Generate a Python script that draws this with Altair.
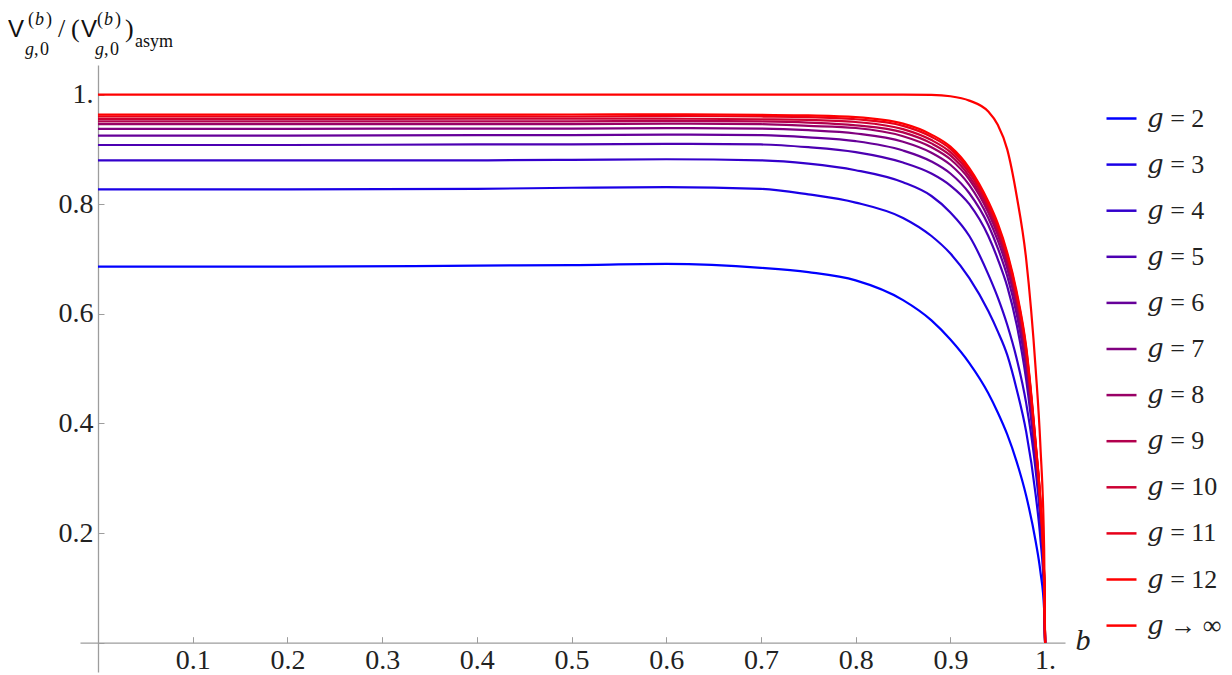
import altair as alt
import pandas as pd

# ---------------- data ----------------
b_values = [0.0, 0.2, 0.4, 0.5, 0.6, 0.7, 0.75, 0.8, 0.85, 0.88, 0.9, 0.92,
            0.94, 0.95, 0.96, 0.97, 0.98, 0.99, 0.995, 0.999, 1.0]

v_g2 = [0.686, 0.686, 0.688, 0.689, 0.691, 0.684, 0.676, 0.661, 0.625, 0.588, 0.553,
        0.510, 0.455, 0.420, 0.380, 0.330, 0.268, 0.185, 0.130, 0.060, 0.0]
v_g3 = [0.827, 0.827, 0.828, 0.830, 0.831, 0.828, 0.818, 0.803, 0.775, 0.742, 0.710,
        0.665, 0.605, 0.568, 0.525, 0.462, 0.385, 0.270, 0.190, 0.085, 0.0]
v_g4 = [0.880, 0.880, 0.880, 0.881, 0.882, 0.880, 0.874, 0.862, 0.840, 0.815, 0.785,
        0.742, 0.672, 0.630, 0.580, 0.518, 0.437, 0.315, 0.222, 0.098, 0.0]
v_g5 = [0.908, 0.908, 0.909, 0.909, 0.910, 0.909, 0.904, 0.895, 0.876, 0.856, 0.834,
        0.800, 0.742, 0.700, 0.650, 0.580, 0.480, 0.330, 0.235, 0.105, 0.0]
v_g6 = [0.925, 0.925, 0.926, 0.926, 0.927, 0.926, 0.922, 0.915, 0.898, 0.878, 0.856,
        0.820, 0.762, 0.720, 0.669, 0.599, 0.499, 0.341, 0.243, 0.110, 0.0]
v_g7 = [0.9375, 0.9375, 0.938, 0.938, 0.939, 0.938, 0.935, 0.929, 0.914, 0.894, 0.872,
        0.835, 0.775, 0.734, 0.683, 0.612, 0.512, 0.349, 0.248, 0.113, 0.0]
v_g8 = [0.946, 0.946, 0.946, 0.946, 0.947, 0.946, 0.943, 0.939, 0.924, 0.904, 0.882,
        0.845, 0.785, 0.744, 0.692, 0.621, 0.521, 0.354, 0.252, 0.115, 0.0]
v_g9 = [0.951, 0.951, 0.951, 0.951, 0.952, 0.951, 0.949, 0.944, 0.931, 0.911, 0.889,
        0.851, 0.791, 0.750, 0.698, 0.626, 0.526, 0.357, 0.254, 0.117, 0.0]
v_g10 = [0.9557, 0.9557, 0.956, 0.956, 0.956, 0.955, 0.954, 0.950, 0.937, 0.917, 0.895,
         0.857, 0.796, 0.756, 0.703, 0.632, 0.532, 0.360, 0.257, 0.118, 0.0]
v_g11 = [0.960, 0.960, 0.960, 0.960, 0.961, 0.960, 0.959, 0.955, 0.943, 0.923, 0.901,
         0.862, 0.801, 0.761, 0.708, 0.636, 0.536, 0.363, 0.259, 0.119, 0.0]
v_g12 = [0.9635, 0.9635, 0.9635, 0.9637, 0.964, 0.963, 0.962, 0.959, 0.947, 0.927, 0.905,
         0.866, 0.805, 0.765, 0.712, 0.640, 0.540, 0.365, 0.260, 0.120, 0.0]
v_inf = [1.0, 1.0, 1.0, 1.0, 1.0, 1.0, 1.0, 1.0, 1.0, 0.9995, 0.997,
         0.989, 0.969, 0.945, 0.900, 0.815, 0.700, 0.500, 0.360, 0.170, 0.0]

series_labels = ["𝑔 = 2", "𝑔 = 3", "𝑔 = 4", "𝑔 = 5", "𝑔 = 6", "𝑔 = 7", "𝑔 = 8",
                 "𝑔 = 9", "𝑔 = 10", "𝑔 = 11", "𝑔 = 12", "𝑔 → ∞"]
series_values = [v_g2, v_g3, v_g4, v_g5, v_g6, v_g7, v_g8, v_g9, v_g10, v_g11, v_g12, v_inf]

x_ticks = [0.0, 0.1, 0.2, 0.3, 0.4, 0.5, 0.6, 0.7, 0.8, 0.9, 1.0]
y_ticks = [0.0, 0.2, 0.4, 0.6, 0.8, 1.0]

rows = []
for k, (lab, vals) in enumerate(zip(series_labels, series_values)):
    for b, v in zip(b_values, vals):
        rows.append({"series": lab, "k": k, "b": b, "v": v})
df = pd.DataFrame(rows)

# blue -> red blend for g = 2..12, red for g -> inf
colors = []
for k in range(11):
    t = k / 10
    colors.append("#%02x00%02x" % (round(255 * t), round(255 * (1 - t))))
colors.append("#ff0000")

# ---------------- layout ----------------
W, H = 985, 607
XDOM = [-0.019, 1.021]
YDOM = [-0.0535, 1.054]
x0_px = (0 - XDOM[0]) / (XDOM[1] - XDOM[0]) * W
y0_px = (YDOM[1] - 0) / (YDOM[1] - YDOM[0]) * H

AXC = "#9d9d9d"
LBL = "#222222"
SERIF = "Liberation Serif, DejaVu Serif, serif"
SANS = "Liberation Sans, DejaVu Sans, sans-serif"

label_expr = "datum.value == 0 ? '' : (datum.value == 1 ? '1.' : format(datum.value, '.1f'))"

x_axis = alt.Axis(
    orient="top", offset=-y0_px, values=x_ticks, grid=False, labelExpr=label_expr,
    tickSize=6, tickColor=AXC, tickWidth=1, domainColor=AXC, domainWidth=1.3,
    labelPadding=-32, labelBaseline="alphabetic", labelAlign="center",
    labelFont=SERIF, labelFontSize=28, labelColor=LBL, labelFlush=False, labelOverlap=False,
    title="b", titleX=995, titleY=7, titleAlign="left", titleBaseline="alphabetic",
    titleAngle=0, titleFont=SERIF, titleFontStyle="italic", titleFontWeight="normal",
    titleFontSize=30, titleColor=LBL,
)
y_axis = alt.Axis(
    orient="right", offset=-(W - x0_px), values=y_ticks, grid=False, labelExpr=label_expr,
    tickSize=6, tickColor=AXC, tickWidth=1, domainColor=AXC, domainWidth=1.3,
    labelPadding=-11, labelBaseline="middle", labelAlign="right",
    labelFont=SERIF, labelFontSize=28, labelColor=LBL, labelFlush=False, labelOverlap=False,
    title=None,
)

lines = alt.Chart(df).mark_line(strokeWidth=2.2, interpolate="monotone").encode(
    x=alt.X("b:Q", scale=alt.Scale(domain=XDOM, nice=False, zero=False), axis=x_axis),
    y=alt.Y("v:Q", scale=alt.Scale(domain=YDOM, nice=False, zero=False), axis=y_axis),
    color=alt.Color(
        "series:N", sort=series_labels,
        scale=alt.Scale(domain=series_labels, range=colors),
        legend=alt.Legend(
            orient="none", legendX=1025, legendY=37, title=None,
            symbolType="stroke", symbolSize=900, symbolStrokeWidth=2.5,
            labelFont=SERIF, labelFontSize=26, labelColor=LBL, labelOffset=9,
            rowPadding=16.1, padding=0, labelLimit=300,
        ),
    ),
    order=alt.Order("b:Q"),
)


def piece(txt, x, y, size, font=SERIF, style="normal"):
    return alt.Chart(pd.DataFrame({"t": [txt]})).mark_text(
        align="left", baseline="alphabetic", font=font, fontSize=size,
        fontStyle=style, color="#111111",
    ).encode(x=alt.value(x), y=alt.value(y), text="t:N")


SUP, SUB, MAIN = -40, -10, -28
pieces = [
    piece("V", -72, MAIN, 24, SANS),
    piece("(", -52, SUP, 18), piece("b", -45, SUP, 18, style="italic"), piece(")", -34, SUP, 18),
    piece("g", -55, SUB, 18, style="italic"), piece(",", -46, SUB, 18), piece("0", -40, SUB, 18),
    piece("/", -22, MAIN, 26), piece("(", -9, MAIN, 26),
    piece("V", 1, MAIN, 24, SANS),
    piece("(", 17, SUP, 18), piece("b", 24, SUP, 18, style="italic"), piece(")", 35, SUP, 18),
    piece("g", 15, SUB, 18, style="italic"), piece(",", 24, SUB, 18), piece("0", 30, SUB, 18),
    piece(")", 45, MAIN, 26),
    piece("asym", 55, -18, 18),
]

chart = alt.layer(lines, *pieces).properties(
    width=W, height=H,
    padding={"left": 72, "top": 57, "right": 159, "bottom": 3},
    autosize=alt.AutoSizeParams(type="none"),
).configure_view(stroke=None)

chart.save("out.html", embed_options={"renderer": "svg", "actions": False})
